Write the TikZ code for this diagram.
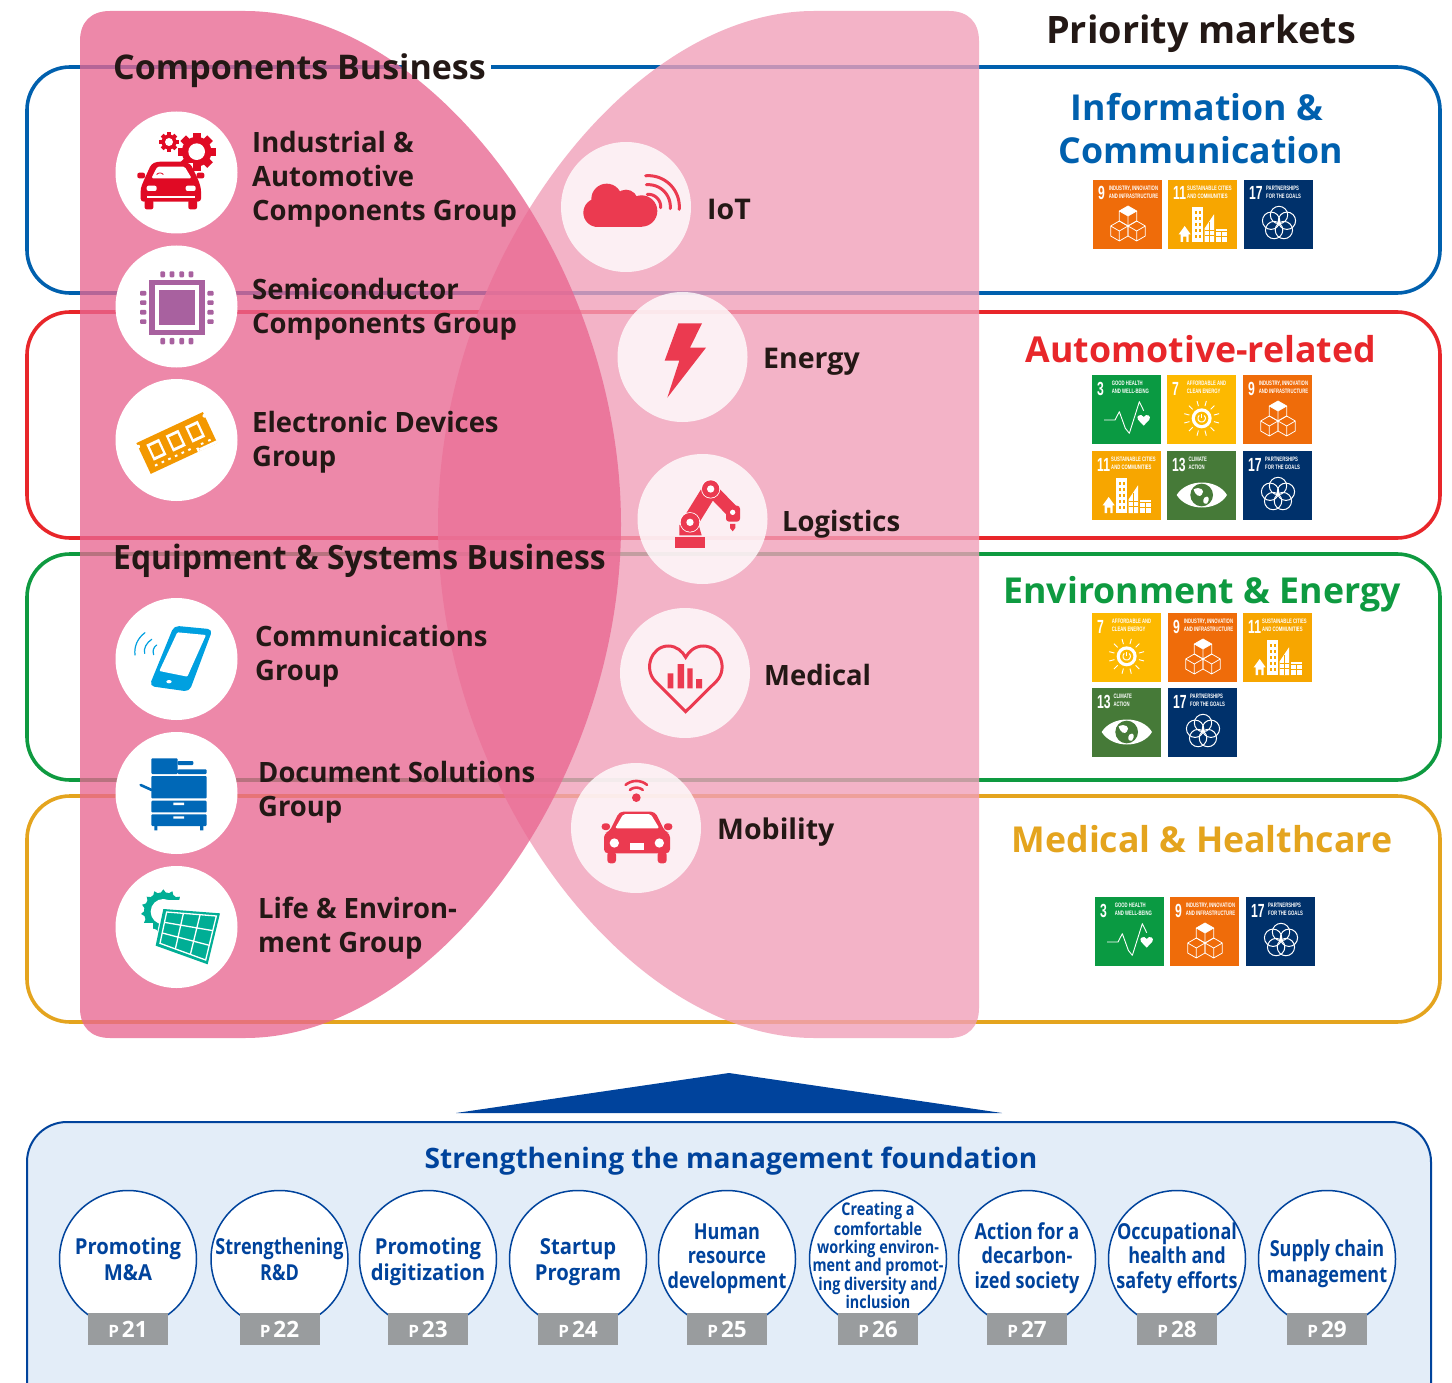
\documentclass[tikz,border=0pt]{standalone}
\usepackage{fontspec}
\usepackage{graphicx}
\setmainfont{Open Sans}[BoldFont={Open Sans Bold}]
\newfontfamily\gpf{Open Sans}[BoldFont={Open Sans Bold},FakeStretch=.98]
\newfontfamily\eqf{Open Sans}[BoldFont={Open Sans Bold},FakeStretch=.95]
\newfontfamily\cnd{Open Sans}[BoldFont={Open Sans Bold},FakeStretch=.82]
\newfontfamily\cndw{Open Sans}[BoldFont={Open Sans Bold},FakeStretch=.92]
\newfontfamily\sdgf{Liberation Sans}[BoldFont={Liberation Sans Bold},FakeStretch=.66]
\newfontfamily\numf{Liberation Sans}[BoldFont={Liberation Sans Bold},FakeStretch=.64]
\definecolor{ink}{HTML}{231815}
\definecolor{cblue}{HTML}{0060AE}
\definecolor{cred}{HTML}{E8262A}
\definecolor{cgreen}{HTML}{0E9A40}
\definecolor{cgold}{HTML}{E4A41E}
\definecolor{navy}{HTML}{00439C}
\definecolor{pinkbase}{RGB}{233,103,145}
\definecolor{pinklight}{RGB}{241,160,186}
\definecolor{iconred}{HTML}{EB3A50}
\definecolor{carred}{HTML}{E00A24}
\definecolor{chip}{HTML}{A8619F}
\definecolor{ram}{HTML}{F39800}
\definecolor{phone}{HTML}{00A0E0}
\definecolor{printer}{HTML}{0068B7}
\definecolor{solar}{HTML}{00AE95}
\definecolor{sdgnine}{HTML}{EF6C0A}
\definecolor{sdgele}{HTML}{F7A600}
\definecolor{sdgsev}{HTML}{FDB900}
\definecolor{sdgseve}{HTML}{00316B}
\definecolor{sdgthr}{HTML}{0A9A42}
\definecolor{sdgthi}{HTML}{467A38}
\definecolor{panelbg}{HTML}{E3EDF8}
\definecolor{taggrey}{HTML}{999C9E}
\tikzset{
  marketbox/.style={line width=3.6pt,rounded corners=43pt},
  lc/.style={circle,fill=white,minimum size=122pt,inner sep=0pt},
  rc/.style={circle,fill=white,fill opacity=.8,minimum size=130pt,inner sep=0pt},
  grouptxt/.style={anchor=base west,inner sep=0pt,text=ink,font=\gpf\bfseries\fontsize{28}{34}\selectfont},
  marktxt/.style={anchor=base west,inner sep=0pt,text=ink,font=\bfseries\fontsize{28.5}{34}\selectfont},
  headtxt/.style={anchor=base west,inner sep=0pt,text=ink,font=\bfseries\fontsize{34}{40}\selectfont},
  eqtxt/.style={anchor=base west,inner sep=0pt,text=ink,font=\eqf\bfseries\fontsize{33.5}{40}\selectfont},
  markettxt/.style={anchor=base,inner sep=0pt,font=\bfseries\fontsize{35.7}{42}\selectfont},
  tilebox/.style={rectangle,minimum size=69pt,inner sep=0pt},
  tnum/.style={anchor=base west,inner sep=0pt,text=white,font=\numf\bfseries\fontsize{19}{19}\selectfont},
  tlbl/.style={anchor=north west,align=left,inner sep=0pt,text=white,font=\sdgf\bfseries\fontsize{6.4}{8.6}\selectfont},
  fc/.style={circle,draw=navy,line width=1.5pt,fill=white,minimum size=137pt,inner sep=0pt},
  ft/.style={align=center,inner sep=0pt,text=navy},
  tag/.style={rectangle,fill=taggrey,minimum width=80pt,minimum height=32pt,inner sep=0pt,text=white},
  zoomed/.style={x=.33333pt,y=-.33333pt},
}
% arc in screen orientation: [opts]{cx}{cy}{a}{b}{r}
\newcommand\parc[6][]{\draw[#1] plot[domain=#4:#5,samples=24,variable=\t] ({#2+#6*cos(\t)},{#3-#6*sin(\t)});}
% gear {cx}{cy}{R}{hole}{n}{colour}{half tooth}
\newcommand\gearshape[7]{%
  \fill[#6] (#1,#2) circle[radius=#3*.78];
  \foreach \k in {1,...,#5}{\fill[#6,rotate around={\k*360/#5:(#1,#2)}] (#1-#7,#2-#3) rectangle (#1+#7,#2);}
  \fill[white] (#1,#2) circle[radius=#4];}
% SDG tiles
\newcommand\tile[9]{%
  \node[tilebox,fill=#4] (#1) at (#2+34.5,#3+34.5) {};
  \begin{scope}[shift={(#2,#3)},zoomed]
    \node[tnum] (#1num) at (15,60) {#5};
    \node[tlbl] (#1lab) at (#6,17) {#7\\#8};
    #9
  \end{scope}}
\newcommand\cube[2]{%
  \draw[white,line width=.75pt,line join=round] (#1,#2-30)--(#1+26,#2-15)--(#1+26,#2+15)--(#1,#2+30)--(#1-26,#2+15)--(#1-26,#2-15)--cycle
    (#1,#2)--(#1+26,#2-15) (#1,#2)--(#1-26,#2-15) (#1,#2)--(#1,#2+30);}
\newcommand\iconcube{%
  \cube{79}{153}\cube{131}{153}\cube{105}{108}
  \fill[white] (105,78)--(131,93)--(105,108)--(79,93)--cycle;}
\newcommand\iconcity{%
  \fill[white] (38,186)--(38,163)--(32,163)--(50,138)--(68,163)--(62,163)--(62,186)--(55,186)--(55,170)--(45,170)--(45,186)--cycle;
  \fill[white] (72,82) rectangle (105,186);
  \foreach \a in {80,93}{\foreach \b in {92,110,128,146,164}{\fill[sdgele] (\a,\b) rectangle ++(7,9);}}
  \fill[white] (110,186)--(110,145)--(138,103)--(138,186)--cycle;
  \draw[sdgele,line width=.5pt] (110,150)--(138,150) (110,165)--(138,165) (124,125)--(124,186);
  \fill[white] (143,146) rectangle (176,186);
  \draw[sdgele,line width=.6pt] (143,155)--(176,155) (143,170)--(176,170) (159,155)--(159,186);}
\newcommand\iconflower{%
  \foreach \k in {0,1,2,3,4}{\draw[white,line width=1pt] ({105+25*cos(90+72*\k)},{130-25*sin(90+72*\k)}) circle[radius=26];}}
\newcommand\iconpulse{%
  \draw[white,line width=.9pt,line join=round] (36,135)--(69,135)--(82,110)--(100,160)--(112,175)--(142,80)--(155,107);
  \fill[white] (155,152)--(138,134) .. controls (130,122) and (148,114) .. (155,126) .. controls (162,114) and (180,122) .. (172,134) --cycle;}
\newcommand\iconsun{%
  \foreach \k in {0,30,...,330}{\draw[white,line width=.9pt] ({104+38*cos(\k+15)},{130-38*sin(\k+15)})--({104+54*cos(\k+15)},{130-54*sin(\k+15)});}
  \fill[white] (104,130) circle[radius=30];
  \fill[sdgsev] (104,130) circle[radius=20];
  \parc[white,line width=1pt]{104}{130}{-230}{50}{11}
  \draw[white,line width=1pt] (104,116)--(104,128);}
\newcommand\iconeye{%
  \fill[white] (29,132) .. controls (60,82) and (150,82) .. (180,132) .. controls (150,182) and (60,182) .. (29,132) --cycle;
  \fill[sdgthi] (104,132) circle[radius=34];
  \fill[white] (80,115) .. controls (100,105) and (115,118) .. (105,130) .. controls (100,140) and (85,135) .. (80,115) --cycle;
  \fill[white] (112,140) .. controls (125,130) and (130,145) .. (120,158) .. controls (108,160) and (106,150) .. (112,140) --cycle;}
\newcommand\sdgNine[3]{\tile{#1}{#2}{#3}{sdgnine}{9}{47}{INDUSTRY, INNOVATION}{AND INFRASTRUCTURE}{\iconcube}}
\newcommand\sdgEleven[3]{\tile{#1}{#2}{#3}{sdgele}{11}{57}{SUSTAINABLE CITIES}{AND COMMUNITIES}{\iconcity}}
\newcommand\sdgSeventeen[3]{\tile{#1}{#2}{#3}{sdgseve}{17}{66}{PARTNERSHIPS}{FOR THE GOALS}{\iconflower}}
\newcommand\sdgThree[3]{\tile{#1}{#2}{#3}{sdgthr}{3}{59}{GOOD HEALTH}{AND WELL-BEING}{\iconpulse}}
\newcommand\sdgSeven[3]{\tile{#1}{#2}{#3}{sdgsev}{7}{59}{AFFORDABLE AND}{CLEAN ENERGY}{\iconsun}}
\newcommand\sdgThirteen[3]{\tile{#1}{#2}{#3}{sdgthi}{13}{64}{CLIMATE}{ACTION}{\iconeye}}
% foundation circles {id}{x}{text y}{font}{text}{page}
\newcommand\found[6]{%
  \node[fc] (f#1) at (#2,1259) {};
  \node[ft,font=#4] (ftxt#1) at (#2,#3) {\strut#5\strut};
  \node[tag] (p#1) at (#2,1329) {\bfseries\fontsize{17}{20}\selectfont P\hspace{3pt}\fontsize{22.5}{24}\selectfont #6};}
\newcommand\ftwo{\cnd\bfseries\fontsize{22}{26}\selectfont}
\newcommand\ftwow{\cndw\bfseries\fontsize{22}{26}\selectfont}
\newcommand\fthree{\cnd\bfseries\fontsize{22}{24.5}\selectfont}
\newcommand\fsmall{\cnd\bfseries\fontsize{17.5}{18.4}\selectfont}
\begin{document}
\begin{tikzpicture}[x=1pt,y=-1pt]
\useasboundingbox (0,0) rectangle (1452,1383);
\fill[white] (0,0) rectangle (1452,1383);
% market boxes
\draw[marketbox,cblue] (27,67) rectangle (1440,293);
\draw[marketbox,cred] (27,312) rectangle (1440,538);
\draw[marketbox,cgreen] (27,554) rectangle (1440,780);
\draw[marketbox,cgold] (27,796) rectangle (1440,1022);
% gap in blue line behind the heading
\fill[white] (405,60) rectangle (491,75);
% overlapping business shapes
\fill[pinklight,fill opacity=.8] (979,41) .. controls (979,22) and (968,11) .. (949,11) -- (814,11)
   .. controls (629,11) and (438,260) .. (438,524.5) .. controls (438,789) and (629,1038) .. (814,1038)
   -- (949,1038) .. controls (968,1038) and (979,1027) .. (979,1008) -- cycle;
\fill[pinkbase,fill opacity=.78] (80,41) .. controls (80,22) and (91,11) .. (110,11) -- (245,11)
   .. controls (430,11) and (621,260) .. (621,524.5) .. controls (621,789) and (430,1038) .. (245,1038)
   -- (110,1038) .. controls (91,1038) and (80,1027) .. (80,1008) -- cycle;
% headings
\node[markettxt,text=ink,font=\bfseries\fontsize{37.8}{44}\selectfont] (pm) at (1201,44) {Priority markets};
\node[headtxt] (cb) at (113,80) {Components Business};
\node[eqtxt] (eb) at (113,569) {Equipment \& Systems Business};
% left circles
\node[lc] (c1) at (176.5,172.5) {};
\node[lc] (c2) at (176.5,306.5) {};
\node[lc] (c3) at (176.5,440) {};
\node[lc] (c4) at (176.5,659) {};
\node[lc] (c5) at (176.5,793) {};
\node[lc] (c6) at (176.5,927) {};
% group labels
\node[grouptxt] (g1a) at (252,153) {Industrial \&};
\node[grouptxt] (g1b) at (252,187) {Automotive};
\node[grouptxt] (g1c) at (252,221) {Components Group};
\node[grouptxt] (g2a) at (252,299) {Semiconductor};
\node[grouptxt] (g2b) at (252,333) {Components Group};
\node[grouptxt] (g3a) at (252,432) {Electronic Devices};
\node[grouptxt] (g3b) at (252,466) {Group};
\node[grouptxt] (g4a) at (255,646) {Communications};
\node[grouptxt] (g4b) at (255,680) {Group};
\node[grouptxt] (g5a) at (258,782) {Document Solutions};
\node[grouptxt] (g5b) at (258,816) {Group};
\node[grouptxt] (g6a) at (258,918) {Life \& Environ-};
\node[grouptxt] (g6b) at (258,952) {ment Group};
% right circles
\node[rc] (r1) at (626,207) {};
\node[rc] (r2) at (682.5,357) {};
\node[rc] (r3) at (702.5,519) {};
\node[rc] (r4) at (685,673) {};
\node[rc] (r5) at (636,828) {};
\node[marktxt] (r1t) at (707,220) {IoT};
\node[marktxt] (r2t) at (763,368) {Energy};
\node[grouptxt] (r3t) at (782,531) {Logistics};
\node[grouptxt] (r4t) at (764,685) {Medical};
\node[marktxt] (r5t) at (717,839) {Mobility};
% icons from the top-left crop
\begin{scope}[shift={(80,90)},zoomed]
  % car and gears
  \gearshape{350}{185}{57}{25}{8}{carred}{12}
  \gearshape{267}{156}{29}{12}{8}{carred}{6}
  \fill[carred,rounded corners=2pt] (172,248) rectangle (195,265) (350,248) rectangle (373,265);
  \fill[white] (205,220) rectangle (340,240);
  \fill[carred,rounded corners=3pt] (182,335)--(182,295)--(192,270)--(214,222)--(232,215)--(312,215)--(332,222)--(355,270)--(363,295)--(363,335)--cycle;
  \fill[carred,rounded corners=2pt] (194,330) rectangle (220,358) (325,330) rectangle (351,358);
  \fill[white,rounded corners=1.5pt] (214,265)--(232,230)--(314,230)--(335,265)--cycle;
  \fill[white,rounded corners=2pt] (200,287) rectangle (230,303) (317,287) rectangle (347,303);
  \fill[white] (200,318) rectangle (345,323);
  \parc[carred,line width=.8pt]{240}{262}{40}{140}{13}
  % chip
  \fill[chip] (208,570) rectangle (374,735);
  \fill[white] (224,585) rectangle (358,720);
  \fill[chip] (238,600) rectangle (344,706);
  \foreach \a in {248,276,305,333}{\fill[chip,rounded corners=1pt] (\a-7,544) rectangle (\a+7,562) (\a-7,744) rectangle (\a+7,763);}
  \foreach \b in {610,638,667,695}{\fill[chip,rounded corners=1pt] (180,\b-7) rectangle (199,\b+7) (382,\b-7) rectangle (401,\b+7);}
  % memory module
  \begin{scope}[shift={(290,1058)},rotate=25]
    \fill[ram] (-110,-50) rectangle (110,52);
    \fill[white] (-110,-38) circle[radius=6] (110,-38) circle[radius=6];
    \fill[white] (46,40) rectangle (53,53);
    \fill[white] (54,44) rectangle (111,53);
    \foreach \a in {-64,0,64}{\fill[white] (\a-21,-33) rectangle (\a+21,20);\fill[ram] (\a-14,-24) rectangle (\a+14,11);}
    \foreach \a in {-84,-62,-40,-18,4,26,68,92}{\fill[white] (\a-4,32) rectangle (\a+4,38);}
  \end{scope}
\end{scope}
% icons of the right column, top
\begin{scope}[shift={(550,130)},zoomed]
  % cloud
  \fill[iconred] (170,207) circle[radius=46] (228,215) circle[radius=36] (275,243) circle[radius=47] (143,248) circle[radius=43];
  \fill[iconred] (143,230) rectangle (275,290);
  \parc[iconred,line width=3pt,line cap=round]{295}{230}{-5}{95}{37}
  \parc[iconred,line width=3pt,line cap=round]{295}{230}{-5}{95}{66}
  \parc[iconred,line width=3pt,line cap=round]{295}{230}{-5}{95}{93}
  % bolt
  \fill[iconred] (385,580)--(456,580)--(420,653)--(468,653)--(352,803)--(388,692)--(344,692)--cycle;
  % robot
  \fill[iconred] (376,1220) rectangle (466,1253);
  \fill[iconred] (388,1185)--(446,1185)--(455,1216)--(388,1216)--cycle;
  \draw[iconred,line width=16pt] (420,1177)--(482,1077);
  \draw[iconred,line width=13pt] (482,1077)--(548,1145);
  \draw[white,line width=1pt] (420,1177) circle[radius=29];
  \fill[iconred] (420,1177) circle[radius=28];
  \fill[white] (420,1177) circle[radius=11];
  \draw[white,line width=1pt] (482,1077) circle[radius=27];
  \fill[iconred] (482,1077) circle[radius=26];
  \fill[white] (482,1077) circle[radius=11];
  \fill[iconred,rounded corners=3pt] (528,1127) rectangle (570,1175);
  \fill[white] (548,1147) circle[radius=8];
  \fill[iconred] (540,1182)--(556,1182)--(556,1194)--(548,1204)--(540,1194)--cycle;
\end{scope}
% icons of the right column, bottom
\begin{scope}[shift={(560,600)},zoomed]
  % heart
  \draw[iconred,line width=3pt,line join=miter] (377,335)--(285,243) .. controls (250,205) and (275,138) .. (325,138) .. controls (350,138) and (368,155) .. (377,172) .. controls (386,155) and (404,138) .. (430,138) .. controls (480,138) and (505,205) .. (470,243) --cycle;
  \fill[iconred] (323,220) rectangle (340,265) (353,192) rectangle (372,265) (382,205) rectangle (398,265) (408,237) rectangle (426,265);
  % connected car
  \fill[iconred] (229,593) circle[radius=13];
  \parc[iconred,line width=2.6pt,line cap=round]{229}{593}{50}{130}{30}
  \parc[iconred,line width=2.6pt,line cap=round]{229}{593}{50}{130}{50}
  \fill[iconred,rounded corners=3pt] (125,670) rectangle (150,690) (312,670) rectangle (337,690);
  \fill[iconred,rounded corners=4pt] (132,760)--(132,700)--(148,695)--(178,635)--(285,635)--(315,695)--(330,700)--(330,760)--cycle;
  \fill[iconred,rounded corners=3pt] (142,755) rectangle (168,790) (293,755) rectangle (320,790);
  \fill[white,rounded corners=2pt] (165,685)--(190,642)--(272,642)--(298,685)--cycle;
  \fill[white] (163,729) circle[radius=14] (298,729) circle[radius=14];
  \fill[white] (210,728) rectangle (252,750);
\end{scope}
% icons of the lower left circles
\begin{scope}[shift={(100,590)},zoomed]
  % phone
  \fill[phone,rounded corners=5pt] (222,107)--(338,118)--(268,305)--(148,288)--cycle;
  \fill[white,rounded corners=1pt] (232,127)--(318,135)--(262,260)--(178,243)--cycle;
  \fill[white] (207,275) ellipse[x radius=8,y radius=5];
  \draw[phone,line width=1.2pt,line cap=round] (135,128) .. controls (112,145) and (102,170) .. (105,195)
     (155,148) .. controls (140,158) and (130,175) .. (134,190)
     (170,165) .. controls (160,172) and (157,183) .. (161,194);
  % printer
  \fill[printer,rounded corners=1pt] (154,505) rectangle (233,552) (233,538) rectangle (320,552) (154,558) rectangle (320,625) (154,632) rectangle (320,667) (154,673) rectangle (320,708);
  \fill[printer,rounded corners=1pt] (233,513) rectangle (280,525);
  \fill[printer] (163,708) rectangle (172,721) (300,708) rectangle (310,721);
  \draw[printer,line width=2.6pt,line cap=round] (122,585)--(155,600);
  \fill[white] (220,638) rectangle (252,645) (220,679) rectangle (252,686);
  % solar panel
  \foreach \k in {0,24,...,336}{\fill[solar,rotate around={\k:(190,965)}] (181,910)--(190,898)--(199,910)--cycle;}
  \fill[solar] (190,965) circle[radius=58];
  \fill[white] (190,965) circle[radius=38];
  \fill[white] (200,930) rectangle (270,1020);
  \fill[white] (130,1020) rectangle (160,1000);
  \draw[white,line width=2.4pt,line join=round] (190,957)--(360,970)--(323,1123)--(167,1067)--cycle;
  \fill[solar] (190,957)--(360,970)--(323,1123)--(167,1067)--cycle;
  \draw[white,line width=1.3pt] (200,966)--(349,978)--(317,1110)--(180,1060)--cycle;
  \draw[white,line width=1.3pt] (193,997)--(339,1022) (187,1029)--(328,1066)
     (250,971)--(226,1077) (300,975)--(271,1094);
\end{scope}
% market titles
\node[markettxt,text=cblue] (m1a) at (1197,120.5) {Information \&};
\node[markettxt,text=cblue] (m1b) at (1201,164) {Communication};
\node[markettxt,text=cred] (m2) at (1201,362) {Automotive-related};
\node[markettxt,text=cgreen] (m3) at (1202,603) {Environment \& Energy};
\node[markettxt,text=cgold] (m4) at (1202,852) {Medical \& Healthcare};
% SDG tiles
\sdgNine{a}{1093}{180}\sdgEleven{b}{1168}{180}\sdgSeventeen{c}{1244}{180}
\sdgThree{d}{1092}{375}\sdgSeven{e}{1167}{375}\sdgNine{f}{1243}{375}
\sdgEleven{g}{1092}{451}\sdgThirteen{h}{1167}{451}\sdgSeventeen{i}{1243}{451}
\sdgSeven{j}{1092}{613}\sdgNine{k}{1168}{613}\sdgEleven{l}{1243}{613}
\sdgThirteen{m}{1092}{688}\sdgSeventeen{n}{1168}{688}
\sdgThree{o}{1095}{897}\sdgNine{q}{1170}{897}\sdgSeventeen{s}{1246}{897}
% foundation
\fill[navy] (456,1113)--(729,1073)--(1002,1113)--cycle;
\begin{scope}
  \clip (0,0) rectangle (1452,1383);
  \draw[draw=navy,line width=2pt,fill=panelbg,rounded corners=40pt] (27,1122) rectangle (1431,1430);
\end{scope}
\node[anchor=base,inner sep=0pt,text=navy,font=\bfseries\fontsize{28.1}{34}\selectfont] (ftitle) at (731,1168) {Strengthening the management foundation};
\found{a}{128}{1262}{\ftwow}{Promoting\\M\&A}{21}
\found{b}{279.5}{1262}{\ftwo}{Strengthening\\R\&D}{22}
\found{c}{428}{1262}{\ftwow}{Promoting\\digitization}{23}
\found{d}{578}{1262}{\ftwow}{Startup\\Program}{24}
\found{e}{727}{1259}{\fthree}{Human\\resource\\development}{25}
\found{f}{878}{1258}{\fsmall}{Creating a\\comfortable\\working environ-\\ment and promot-\\ing diversity and\\inclusion}{26}
\found{g}{1027}{1259}{\fthree}{Action for a\\decarbon-\\ized society}{27}
\found{h}{1177}{1259}{\fthree}{Occupational\\health and\\safety efforts}{28}
\found{i}{1327}{1264}{\ftwo}{Supply chain\\management}{29}
\end{tikzpicture}
\end{document}
